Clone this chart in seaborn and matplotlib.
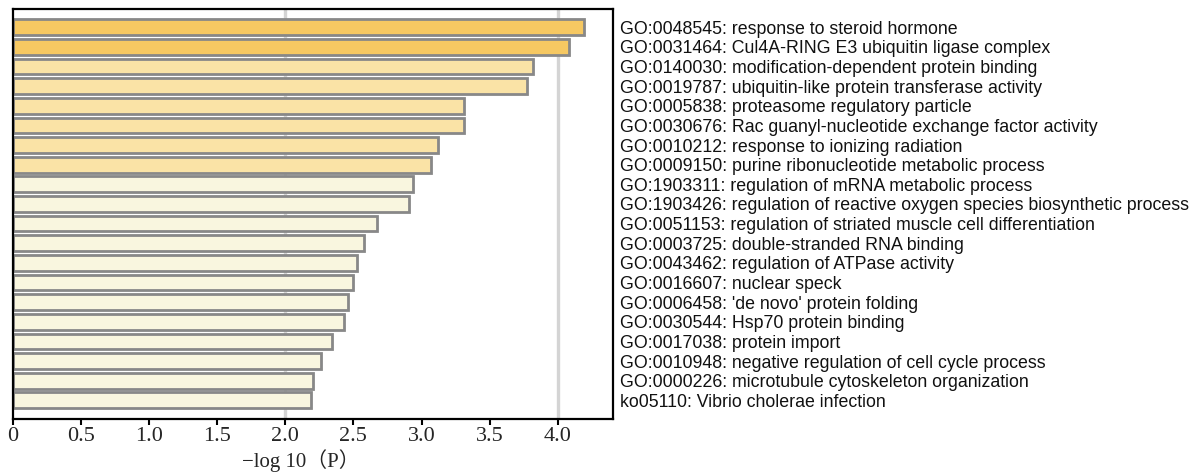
import matplotlib
matplotlib.use("Agg")
import matplotlib.pyplot as plt
import seaborn as sns
import pandas as pd

terms = [
    "GO:0048545: response to steroid hormone",
    "GO:0031464: Cul4A-RING E3 ubiquitin ligase complex",
    "GO:0140030: modification-dependent protein binding",
    "GO:0019787: ubiquitin-like protein transferase activity",
    "GO:0005838: proteasome regulatory particle",
    "GO:0030676: Rac guanyl-nucleotide exchange factor activity",
    "GO:0010212: response to ionizing radiation",
    "GO:0009150: purine ribonucleotide metabolic process",
    "GO:1903311: regulation of mRNA metabolic process",
    "GO:1903426: regulation of reactive oxygen species biosynthetic process",
    "GO:0051153: regulation of striated muscle cell differentiation",
    "GO:0003725: double-stranded RNA binding",
    "GO:0043462: regulation of ATPase activity",
    "GO:0016607: nuclear speck",
    "GO:0006458: 'de novo' protein folding",
    "GO:0030544: Hsp70 protein binding",
    "GO:0017038: protein import",
    "GO:0010948: negative regulation of cell cycle process",
    "GO:0000226: microtubule cytoskeleton organization",
    "ko05110: Vibrio cholerae infection",
]
neg_log_p = [4.19, 4.08, 3.82, 3.77, 3.31, 3.31, 3.12, 3.07, 2.94, 2.91,
             2.67, 2.58, 2.53, 2.50, 2.46, 2.43, 2.34, 2.26, 2.20, 2.19]

x_ticks = [0, 0.5, 1.0, 1.5, 2.0, 2.5, 3.0, 3.5, 4.0]
x_tick_labels = ["0", "0.5", "1.0", "1.5", "2.0", "2.5", "3.0", "3.5", "4.0"]
x_label = "−log 10（P）"


def bar_colour(v):
    if v >= 4:
        return "#F6C862"
    if v >= 3:
        return "#FAE3A6"
    return "#F9F6DF"


df = pd.DataFrame({"term": terms, "score": neg_log_p})
palette = {t: bar_colour(v) for t, v in zip(terms, neg_log_p)}

sns.set_theme(style="white")
plt.rcParams["font.family"] = ["Liberation Serif", "Noto Sans CJK SC"]

fig = plt.figure(figsize=(12.04, 4.75), dpi=100)
ax = fig.add_axes([12.5 / 1204, 1 - 419 / 475, 600 / 1204, (419 - 8.5) / 475])

sns.barplot(data=df, x="score", y="term", hue="term", palette=palette,
            legend=False, orient="h", width=0.8, edgecolor="#888888",
            linewidth=2.0, saturation=1, ax=ax, zorder=2)

for gx in (2.0, 4.0):
    ax.axvline(gx, color="#D4D4D4", lw=2.4, zorder=0.5)

ax.set_xlim(0, 4.40)
ax.set_ylim(19.95, -0.95)

ax.set_xticks(x_ticks)
ax.set_xticklabels(x_tick_labels, fontsize=16, family="Liberation Serif")
ax.tick_params(axis="x", direction="out", length=4, width=1.5, color="black",
               pad=2, bottom=True)

ax.yaxis.tick_right()
ax.tick_params(axis="y", length=0, pad=5.5)
for lbl in ax.get_yticklabels():
    lbl.set_fontfamily("Liberation Sans")
    lbl.set_fontsize(12.8)
    lbl.set_color("#111111")

ax.set_ylabel("")
ax.set_xlabel(x_label, fontsize=15, labelpad=2)
ax.xaxis.set_label_coords(0.48, -0.074)

for s in ax.spines.values():
    s.set_visible(True)
    s.set_color("black")
    s.set_linewidth(1.6)

fig.savefig("out.png", dpi=100)
